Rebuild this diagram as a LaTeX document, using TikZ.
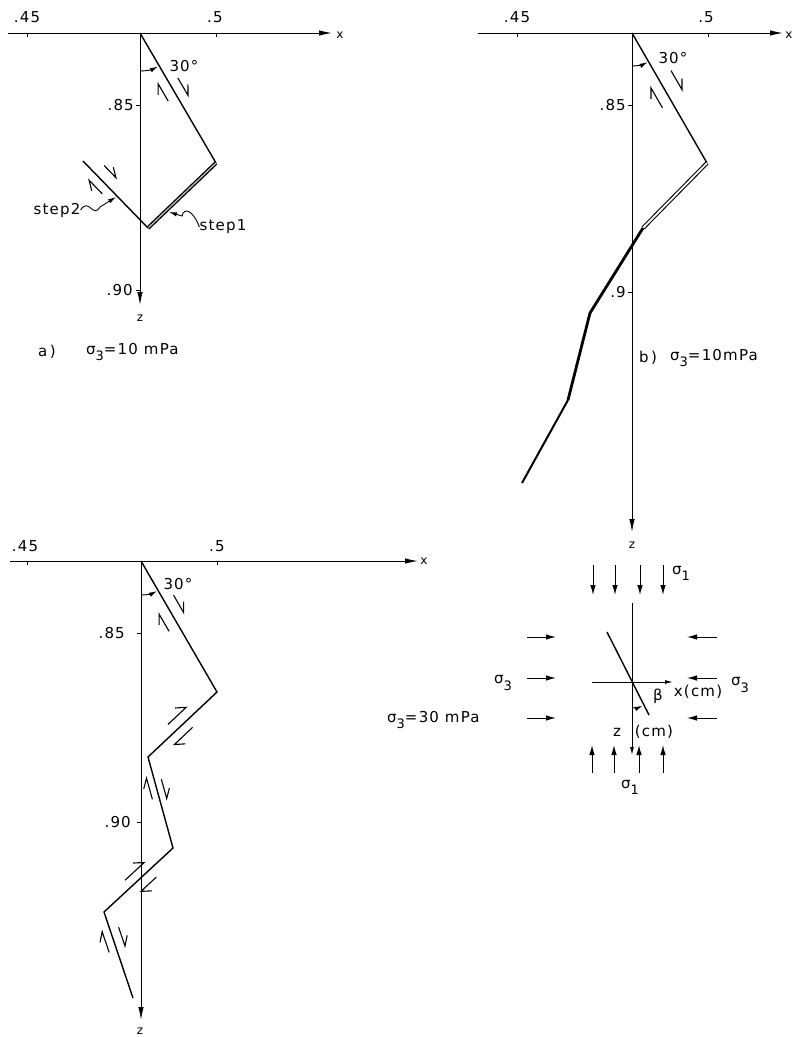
\documentclass[tikz,border=0pt]{standalone}
\usepackage{fontspec}
\setmainfont{DejaVu Sans}[LetterSpace=8]
\usetikzlibrary{arrows.meta,calc}
\tikzset{
  ax/.style={line width=1pt},
  axarr/.style={ax,-{Latex[length=13pt,width=5.5pt]}},
  fault/.style={line width=1.4pt,line join=miter},
  dbla/.style={draw=black,double=gray!55,line width=1.3pt,double distance=1.3pt},
  dblb/.style={draw=black,double=white,line width=1.1pt,double distance=1.8pt},
  thk/.style={line width=2.8pt,line join=round},
  slipst/.style={line width=1.1pt},
  lbl/.style={inner sep=0pt,font=\fontsize{15}{15}\selectfont},
  sml/.style={inner sep=0pt,font=\fontsize{12}{12}\selectfont},
  sarr/.style={line width=1pt,-{Latex[length=10pt,width=5.5pt]}},
  leader/.style={line width=0.9pt,-{Latex[length=8pt,width=4.5pt]}},
  arcarr/.style={line width=0.9pt,-{Latex[length=8pt,width=4.5pt]}},
}
\newcommand\sg[1]{σ\raisebox{-0.75ex}{\fontsize{13}{13}\selectfont #1}}
\newcommand\slipmk[6]{%
  \path ($(#1)!#3!(#2)!#5:(#2)$) coordinate (sS)
        ($(#1)!#4!(#2)!#5:(#2)$) coordinate (sT);
  \draw[slipst] (sS) -- (sT) -- ($(sT)!11pt!#6:(sS)$);}
\begin{document}
\begin{tikzpicture}[x=1pt,y=1pt]
\useasboundingbox (0,0) rectangle (794,-1037);

%================ panel a =================
\coordinate (aL) at (8,-33);
\coordinate (aR) at (332,-33);
\coordinate (aO) at (140,-33);
\coordinate (aB) at (140,-305);
\coordinate (a1) at (216,-163);
\coordinate (a2) at (148,-228);
\coordinate (a3) at (83,-161);
\draw[axarr] (aL) -- (aR);
\node[sml] (ax) at (340,-35) {x};
\draw[axarr] (aO) -- (aB);
\node[sml] (az) at (140,-318) {z};
\draw[ax] (27,-33) -- (27,-37) (216,-33) -- (216,-37);
\node[lbl] (a45) at (27,-17) {.45};
\node[lbl] (a5) at (215,-17) {.5};
\draw[ax] (140,-105) -- (136,-105) (140,-290) -- (136,-290);
\node[lbl,anchor=east] (a85) at (134,-105) {.85};
\node[lbl,anchor=east] (a90) at (133,-290) {.90};
\draw[fault] (aO) -- (a1);
\draw[dbla] (a1) -- (a2);
\draw[fault] (a2) -- (a3);
\draw[arcarr] (140,-71) arc[start angle=-90,end angle=-62,radius=38pt];
\node[lbl] (a30) at (184,-66) {30°};
\slipmk{aO}{a1}{58pt}{78pt}{10pt!90}{-30}
\slipmk{aO}{a1}{73pt}{53pt}{10pt!-90}{-30}
\slipmk{a3}{a2}{18pt}{35pt}{12pt!90}{-30}
\slipmk{a3}{a2}{37pt}{18pt}{9pt!-90}{-30}
\node[lbl] (st2) at (57,-210) {step2};
\coordinate (st2w1) at (100,-207);
\coordinate (st2tip) at (116,-197);
\draw[leader] (st2.east) .. controls (89,-197) and (93,-219) .. (st2w1) -- (st2tip);
\node[lbl] (st1) at (223,-227) {step1};
\coordinate (st1w1) at (182,-216);
\coordinate (st1tip) at (169,-212);
\draw[leader] (st1.west) .. controls (193,-210) and (184,-207) .. (st1w1) -- (st1tip);
\node[lbl] (alab) at (47,-352) {a\,)};
\node[lbl,anchor=west] (asig) at (86,-352) {\sg{3}=10 mPa};

%================ panel b =================
\coordinate (bL) at (478,-33);
\coordinate (bR) at (783,-33);
\coordinate (bO) at (632,-33);
\coordinate (bB) at (632,-532);
\coordinate (b1) at (707,-163);
\coordinate (b2) at (643,-228);
\coordinate (b3) at (590,-313);
\coordinate (b4) at (568,-400);
\coordinate (b5) at (522,-483);
\draw[axarr] (bL) -- (bR);
\node[sml] (bx) at (789,-35) {x};
\draw[axarr] (bO) -- (bB);
\node[sml] (bz) at (632,-545) {z};
\draw[ax] (517,-33) -- (517,-37) (708,-33) -- (708,-37);
\node[lbl] (b45) at (517,-17) {.45};
\node[lbl] (b5l) at (706,-17) {.5};
\draw[ax] (632,-105) -- (628,-105) (632,-292) -- (628,-292);
\node[lbl,anchor=east] (b85) at (626,-105) {.85};
\node[lbl,anchor=east] (b90) at (626,-292) {.9};
\draw[fault] (bO) -- (b1);
\draw[dblb] (b1) -- (b2);
\draw[thk] (b2) -- (b3) -- (b4);
\draw[line width=2pt] (b4) -- (b5);
\draw[arcarr] (632,-66) arc[start angle=-90,end angle=-62,radius=33pt];
\node[lbl] (b30) at (673,-58) {30°};
\slipmk{bO}{b1}{52pt}{74pt}{15pt!90}{-30}
\slipmk{bO}{b1}{80pt}{57pt}{11pt!-90}{-30}
\node[lbl] (blab) at (648,-358) {b\,)};
\node[lbl,anchor=west] (bsig) at (670,-358) {\sg{3}=10mPa};

%================ panel c =================
\coordinate (cL) at (10,-561);
\coordinate (cR) at (418,-561);
\coordinate (cO) at (141,-561);
\coordinate (cB) at (141,-1020);
\coordinate (c1) at (217,-692);
\coordinate (c2) at (148,-757);
\coordinate (c3) at (173,-848);
\coordinate (c4) at (104,-912);
\coordinate (c5) at (133,-998);
\draw[axarr] (cL) -- (cR);
\node[sml] (cx) at (424,-561) {x};
\draw[axarr] (cO) -- (cB);
\node[sml] (cz) at (140,-1031) {z};
\draw[ax] (27,-561) -- (27,-565) (217,-561) -- (217,-565);
\node[lbl] (c45) at (25,-546) {.45};
\node[lbl] (c5l) at (217,-546) {.5};
\draw[ax] (141,-633) -- (137,-633) (141,-822) -- (137,-822);
\node[lbl,anchor=east] (c85) at (125,-633) {.85};
\node[lbl,anchor=east] (c90) at (131,-822) {.90};
\draw[fault] (cO) -- (c1) -- (c2) -- (c3) -- (c4) -- (c5);
\draw[arcarr] (141,-595) arc[start angle=-90,end angle=-62,radius=34pt];
\node[lbl] (c30) at (178,-584) {30°};
\slipmk{cO}{c1}{46pt}{66pt}{11pt!90}{-30}
\slipmk{cO}{c1}{75pt}{55pt}{11pt!-90}{-30}
\slipmk{c1}{c2}{58pt}{33pt}{10pt!-90}{-40}
\slipmk{c1}{c2}{42pt}{67pt}{9pt!90}{-40}
\slipmk{c2}{c3}{42pt}{20pt}{7pt!-90}{-30}
\slipmk{c2}{c3}{25pt}{45pt}{7pt!90}{-30}
\slipmk{c3}{c4}{57pt}{31pt}{9pt!-90}{-40}
\slipmk{c3}{c4}{32pt}{53pt}{10pt!90}{-40}
\slipmk{c4}{c5}{40pt}{18pt}{8pt!-90}{-30}
\slipmk{c4}{c5}{19pt}{39pt}{9pt!90}{-30}

%================ stress sketch =================
\coordinate (sC) at (632,-682);
\coordinate (sV1) at (632,-603);
\coordinate (sV2) at (632,-755);
\coordinate (sH1) at (592,-682);
\coordinate (sH2) at (673,-682);
\coordinate (sF1) at (607,-632);
\coordinate (sF2) at (649,-715);
\draw[ax,-{Latex[length=8pt,width=4pt]}] (sV1) -- (sV2);
\draw[ax,-{Latex[length=8pt,width=4pt]}] (sH1) -- (sH2);
\draw[line width=1.4pt] (sF1) -- (sF2);
\draw[arcarr] (632,-708) arc[start angle=-90,end angle=-66,radius=26pt];
\node[lbl] (beta) at (658,-696) {β};
\node[lbl] (xcm) at (698,-692) {x(cm)};
\node[lbl] (zcm) at (617,-732) {z};
\node[lbl] (zcm2) at (654,-732) {(cm)};
\foreach \x [count=\i] in {593,615,640,663}{
  \coordinate (tA\i) at (\x,-565); \coordinate (tB\i) at (\x,-595);
  \draw[sarr] (tA\i) -- (tB\i);}
\foreach \x [count=\i] in {592,614,639,663}{
  \coordinate (uA\i) at (\x,-773); \coordinate (uB\i) at (\x,-745);
  \draw[sarr] (uA\i) -- (uB\i);}
\foreach \y [count=\i] in {637,678,718}{
  \coordinate (lA\i) at (527,-\y); \coordinate (lB\i) at (556,-\y);
  \draw[sarr] (lA\i) -- (lB\i);
  \coordinate (rA\i) at (717,-\y); \coordinate (rB\i) at (687,-\y);
  \draw[sarr] (rA\i) -- (rB\i);}
\node[lbl,anchor=west] (s1top) at (672,-573) {\sg{1}};
\node[lbl] (s1bot) at (630,-787) {\sg{1}};
\node[lbl] (s3l) at (503,-683) {\sg{3}};
\node[lbl] (s3r) at (740,-685) {\sg{3}};
\node[lbl,anchor=west] (s330) at (387,-720) {\sg{3}=30 mPa};
\end{tikzpicture}
\end{document}
